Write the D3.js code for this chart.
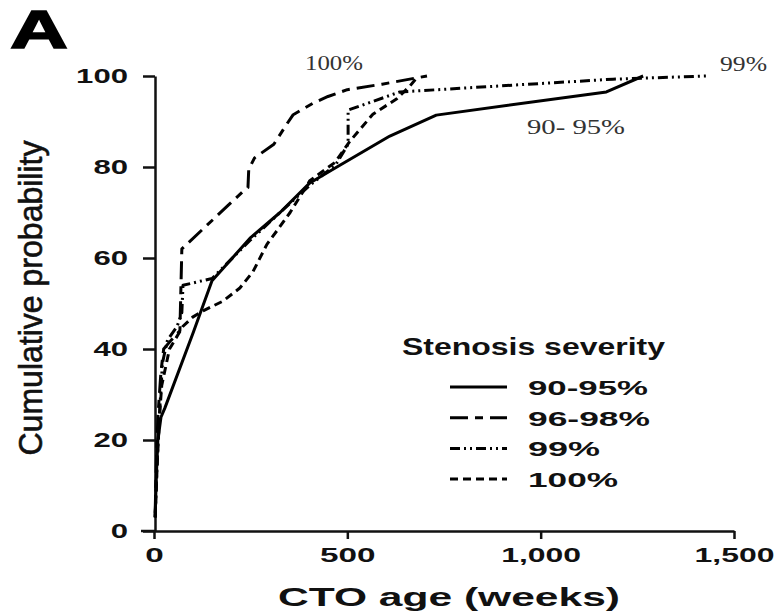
<!DOCTYPE html>
<html>
<head>
<meta charset="utf-8">
<script src="https://cdn.jsdelivr.net/npm/d3@7"></script>
<style>
  body { margin: 0; background: #fff; }
  svg { display: block; font-family: "Liberation Sans", Arial, sans-serif; }
</style>
</head>
<body>
<script>
// cumulative probability (%) vs CTO age (weeks)
const sev9095 = [[3,3],[6,12],[10,20],[18,25],[28,27],[101,43.5],[150,55],[250,64.5],[326,70],[403,76.5],[473,80],[610,86.8],[730,91.4],[1170,96.5],[1265,100]];
const sev9698 = [[3,4],[6,15],[10,25],[18,35],[25,40],[45,42],[67,44],[72,62],[197,72],[235,75],[243,75.5],[245,79.5],[260,82],[310,85],[344,89.5],[360,91.5],[411,94],[450,95.5],[500,97],[590,98.2],[706,100]];
const sev99 = [[3,3],[8,15],[15,27],[22,37],[35,42],[60,45],[72,48],[75,54],[150,55.5],[250,64],[326,70],[403,76],[470,80.5],[502,85],[502,92.5],[636,96.5],[1187,99.3],[1430,100]];
const sev100 = [[3,3],[8,14],[14,25],[20,32],[40,40],[75,45],[100,47],[127,48.4],[178,50.5],[222,53.4],[256,57],[292,63],[318,66],[352,70],[403,77],[468,81],[507,85.7],[566,91.6],[628,95],[662,97.8],[683,100]];

const seriesNames = ["90-95%", "96-98%", "99%", "100%"];
const seriesData = [sev9095, sev9698, sev99, sev100];
const seriesDash = [null, "18,7,8,7", "10,4,2,4,2,4", "8,5"];

const xTickValues = [0, 500, 1000, 1500];
const yTickValues = [0, 20, 40, 60, 80, 100];

const svg = d3.select("body").append("svg")
  .attr("width", 780)
  .attr("height", 614);

const x = d3.scaleLinear().domain([0, 1500]).range([154, 734]);
const y = d3.scaleLinear().domain([0, 100]).range([531, 76]);

// panel letter
svg.append("text")
  .attr("x", 10).attr("y", 48)
  .attr("font-size", 53).attr("font-weight", "bold")
  .attr("stroke", "#000").attr("stroke-width", 1.5)
  .attr("textLength", 58).attr("lengthAdjust", "spacingAndGlyphs")
  .text("A");

// axes
const yAxis = svg.append("g")
  .attr("transform", "translate(155,0)")
  .call(d3.axisLeft(y).tickValues(yTickValues).tickSize(12).tickPadding(15).tickSizeOuter(0));

const xAxis = svg.append("g")
  .attr("transform", "translate(0,531)")
  .call(d3.axisBottom(x).tickValues(xTickValues).tickSize(8).tickPadding(9).tickSizeOuter(0)
    .tickFormat(d3.format(",")));

[xAxis, yAxis].forEach(g => {
  g.select(".domain").attr("stroke", "#111").attr("stroke-width", 2.5);
  g.selectAll(".tick line").attr("stroke", "#111").attr("stroke-width", 2.5);
  g.selectAll(".tick text")
    .attr("fill", "#111")
    .attr("font-size", 20)
    .attr("font-weight", "bold")
    .attr("font-family", "'Liberation Sans', Arial, sans-serif")
    .attr("lengthAdjust", "spacingAndGlyphs");
});
yAxis.selectAll(".tick text").attr("textLength", function() {
  return this.textContent.length * 17.3;
});
xAxis.selectAll(".tick text").attr("textLength", function() {
  let t = this.textContent;
  let commas = t.split(",").length - 1;
  return (t.length - commas) * 18.5 + commas * 6;
});
// x axis line reaches left to the y=0 tick
svg.append("line")
  .attr("x1", 141).attr("x2", 155)
  .attr("y1", y(0)).attr("y2", y(0))
  .attr("stroke", "#111").attr("stroke-width", 2.5);

// axis titles
svg.append("text")
  .attr("x", 449).attr("y", 606)
  .attr("text-anchor", "middle")
  .attr("font-size", 26)
  .attr("font-weight", "bold")
  .attr("textLength", 342).attr("lengthAdjust", "spacingAndGlyphs")
  .attr("fill", "#111")
  .text("CTO age (weeks)");

svg.append("text")
  .attr("transform", "translate(42,298)rotate(-90)")
  .attr("text-anchor", "middle")
  .attr("font-size", 33)
  .attr("textLength", 315).attr("lengthAdjust", "spacingAndGlyphs")
  .attr("fill", "#111")
  .attr("stroke", "#111").attr("stroke-width", 0.6)
  .text("Cumulative probability");

// curves
const line = d3.line()
  .x(d => x(d[0]))
  .y(d => y(d[1]));

seriesData.forEach((s, i) => {
  svg.append("path")
    .datum(s)
    .attr("d", line)
    .attr("fill", "none")
    .attr("stroke", "#000")
    .attr("stroke-width", 3)
    .attr("stroke-linejoin", "round")
    .attr("stroke-dasharray", seriesDash[i]);
});

// handwritten annotations
const notes = [
  { text: "100%", x: 305, y: 70, w: 58 },
  { text: "99%", x: 720, y: 71, w: 47 },
  { text: "90- 95%", x: 527, y: 134, w: 98 }
];
svg.selectAll(".note")
  .data(notes)
  .enter()
  .append("text")
    .attr("class", "note")
    .attr("x", d => d.x)
    .attr("y", d => d.y)
    .attr("font-family", "'Liberation Serif', serif")
    .attr("font-size", 21)
    .attr("fill", "#333")
    .attr("textLength", d => d.w)
    .attr("lengthAdjust", "spacingAndGlyphs")
    .text(d => d.text);

// legend
svg.append("text")
  .attr("x", 402).attr("y", 355)
  .attr("font-size", 23)
  .attr("font-weight", "bold")
  .attr("textLength", 263).attr("lengthAdjust", "spacingAndGlyphs")
  .attr("fill", "#111")
  .text("Stenosis severity");

const legendWidths = [120, 122, 72, 90];
const legend = svg.selectAll(".legend")
  .data(seriesNames)
  .enter()
  .append("g")
    .attr("class", "legend")
    .attr("transform", (d, i) => "translate(0," + (395 + i * 30.7) + ")");

legend.append("line")
  .attr("x1", 450).attr("x2", 507)
  .attr("y1", -8).attr("y2", -8)
  .attr("stroke", "#000")
  .attr("stroke-width", 3)
  .attr("stroke-dasharray", (d, i) => seriesDash[i]);

legend.append("text")
  .attr("x", 528).attr("y", 0)
  .attr("font-size", 20)
  .attr("font-weight", "bold")
  .attr("fill", "#111")
  .attr("textLength", (d, i) => legendWidths[i])
  .attr("lengthAdjust", "spacingAndGlyphs")
  .text(d => d);
</script>
</body>
</html>
